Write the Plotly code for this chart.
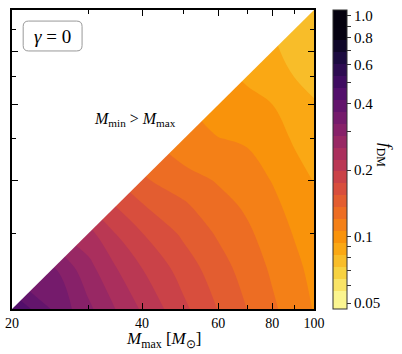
import math
import plotly.graph_objects as go
from plotly.colors import sequential, hex_to_rgb

# grid of masses [M_sun]
m_max = [20, 25, 30, 35, 40, 50, 60, 70, 80, 90, 100]
m_min = [20, 25, 30, 35, 40, 50, 60, 70, 80, 90, 100]

# f_DM, one row per M_min (None where M_min > M_max)
f_dm = [
    [0.470, 0.361, 0.296, 0.251, 0.220, 0.179, 0.153, 0.1355, 0.1225, 0.113, 0.105],
    [None, 0.326, 0.264, 0.223, 0.197, 0.164, 0.143, 0.1286, 0.1175, 0.109, 0.102],
    [None, None, 0.234, 0.196, 0.175, 0.150, 0.1336, 0.1226, 0.113, 0.105, 0.0987],
    [None, None, None, 0.172, 0.155, 0.138, 0.1254, 0.1172, 0.109, 0.1014, 0.0958],
    [None, None, None, None, 0.138, 0.127, 0.1183, 0.1124, 0.1052, 0.098, 0.093],
    [None, None, None, None, None, 0.108, 0.1062, 0.104, 0.0989, 0.092, 0.0878],
    [None, None, None, None, None, None, 0.098, 0.0972, 0.0935, 0.0867, 0.0834],
    [None, None, None, None, None, None, None, 0.0914, 0.0889, 0.0822, 0.0791],
    [None, None, None, None, None, None, None, None, 0.0849, 0.0782, 0.0765],
    [None, None, None, None, None, None, None, None, None, 0.0745, 0.0745],
    [None, None, None, None, None, None, None, None, None, None, 0.0740],
]

cbar_ticks = [0.05, 0.06, 0.07, 0.08, 0.09, 0.1, 0.2, 0.3, 0.4, 0.5, 0.6, 0.7, 0.8, 0.9, 1.0]
cbar_text = ["0.05", "", "", "", "", "0.1", "0.2", "", "0.4", "", "0.6", "", "0.8", "", "1.0"]

FONT = "Liberation Serif"
n_bands = 24
lo = math.log10(0.05)
step = -lo / n_bands


def inferno(t):
    # linear interpolation in plotly's Inferno list
    cols = [hex_to_rgb(c) for c in sequential.Inferno]
    t = min(max(t, 0), 1) * (len(cols) - 1)
    i = min(int(t), len(cols) - 2)
    f = t - i
    c = [round(cols[i][k] + (cols[i + 1][k] - cols[i][k]) * f) for k in range(3)]
    return "rgb(%d,%d,%d)" % tuple(c)


# band k gets inferno_r at its log-midpoint, like matplotlib's contourf
band_cols = [inferno(1 - (k + 0.5) / n_bands) for k in range(n_bands)]
cscale = [[0, band_cols[0]]]
for k in range(n_bands):
    cscale.append([(k + 1) / (n_bands + 2), band_cols[k]])
cscale.append([1, band_cols[-1]])

z = [[None if v is None else math.log10(v) for v in row] for row in f_dm]

fig = go.Figure()
fig.add_trace(go.Contour(
    x=m_max, y=m_min, z=z,
    connectgaps=True,
    contours=dict(start=lo, end=1e-9, size=step, coloring="fill", showlines=False),
    line_width=0,
    colorscale=cscale,
    colorbar=dict(
        x=1.063, xanchor="left", xpad=0, y=0.5, yanchor="middle", ypad=0,
        len=1, thickness=14, outlinewidth=1, outlinecolor="#333",
        tickvals=[math.log10(v) for v in cbar_ticks], ticktext=cbar_text,
        ticks="outside", ticklen=4, tickcolor="#333",
        tickfont=dict(family=FONT, size=15, color="black"),
    ),
    hoverinfo="skip",
))

# blank out the M_min > M_max half
fig.add_trace(go.Scatter(
    x=[20, 100, 20, 20], y=[20, 100, 100, 20], mode="lines",
    fill="toself", fillcolor="white", line=dict(width=0, color="white"),
    hoverinfo="skip", showlegend=False,
))

axis_common = dict(
    type="log", range=[math.log10(20), 2], showgrid=False, zeroline=False,
    showline=True, linecolor="black", linewidth=1.5, mirror="ticks",
    ticks="inside", ticklen=6, tickwidth=1.2, tickcolor="black", automargin=False,
    minor=dict(tickvals=[30, 50, 70, 90], ticks="inside", ticklen=4, tickwidth=1, tickcolor="black"),
)
fig.update_xaxes(
    **axis_common,
    tickvals=[20, 40, 60, 80, 100], ticktext=["20", "40", "60", "80", "100"],
    tickfont=dict(family=FONT, size=14, color="black"), ticklabeloverflow="allow",
)
fig.update_yaxes(**axis_common, tickvals=[40, 60, 80], showticklabels=False)

# rounded box round the gamma label
x0, x1, y0, y1 = 0.037, 0.232, 0.863, 0.963
rx, ry = 0.018, 0.018
box = (f"M {x0+rx},{y0} L {x1-rx},{y0} Q {x1},{y0} {x1},{y0+ry} "
       f"L {x1},{y1-ry} Q {x1},{y1} {x1-rx},{y1} L {x0+rx},{y1} "
       f"Q {x0},{y1} {x0},{y1-ry} L {x0},{y0+ry} Q {x0},{y0} {x0+rx},{y0} Z")
fig.add_shape(type="path", path=box, xref="paper", yref="paper",
              line=dict(color="#999", width=1), fillcolor="white")

labels = [
    ((x0 + x1) / 2, (y0 + y1) / 2, "<i>γ</i> = 0", 19, 0),
    (0.407, 0.635, "<i>M</i><sub>min</sub> > <i>M</i><sub>max</sub>", 16, 0),
    (0.5, -0.105, "<i>M</i><sub>max</sub> [<i>M</i><sub>⊙</sub>]", 17, 0),
    (1.235, 0.515, "<i>f</i><sub>DM</sub>", 17, 90),
]
for lx, ly, txt, size, ang in labels:
    fig.add_annotation(x=lx, y=ly, xref="paper", yref="paper", text=txt,
                       showarrow=False, xanchor="center", yanchor="middle",
                       textangle=ang, font=dict(family=FONT, size=size, color="black"))

fig.update_layout(
    width=402, height=354,
    margin=dict(l=12, r=88, t=10, b=45, autoexpand=False),
    paper_bgcolor="white", plot_bgcolor="white",
    font=dict(family=FONT, color="black"),
    showlegend=False,
)

# drop the page's default body margin so the figure sits at the window origin
fig.write_html("out.html", config={"displayModeBar": False},
               post_script="document.body.style.margin = '0';")
